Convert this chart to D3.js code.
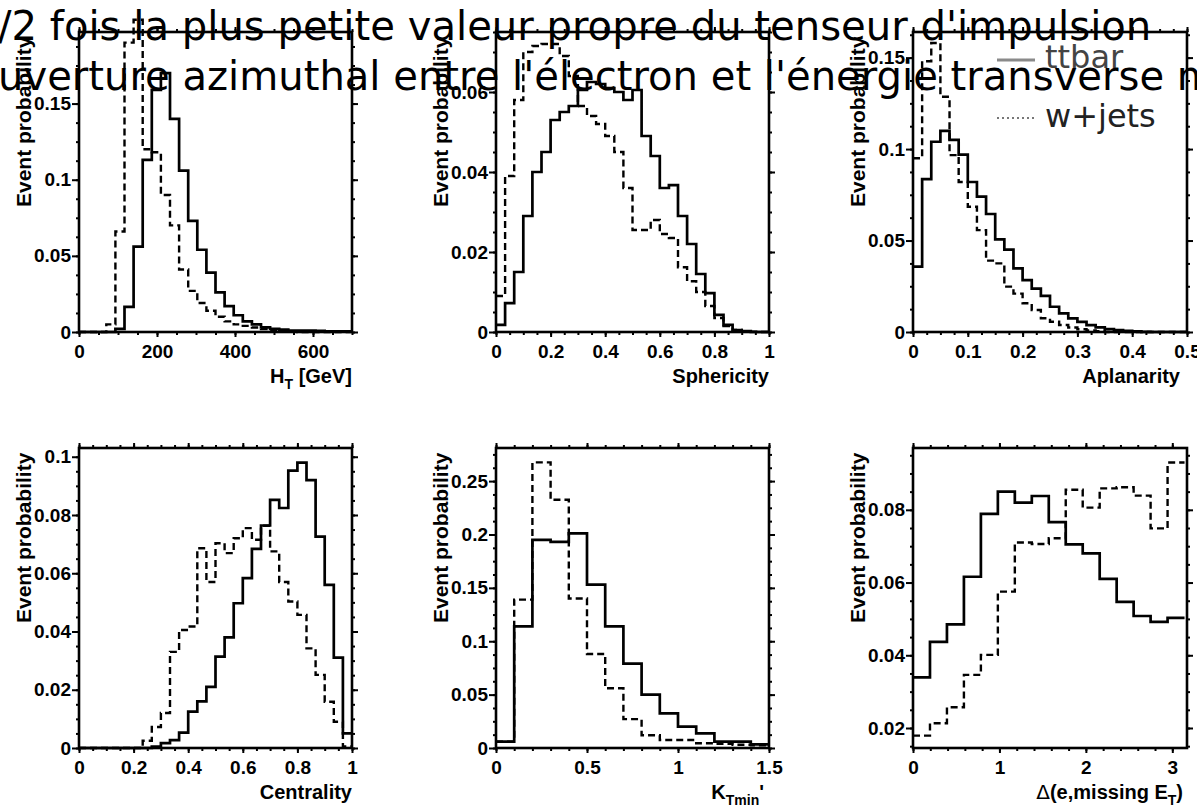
<!DOCTYPE html>
<html>
<head>
<meta charset="utf-8">
<script src="https://cdn.jsdelivr.net/npm/d3@7"></script>
<style>
body{margin:0;background:#fff}
svg{display:block}
.tick text{font-family:"Liberation Sans",Arial,sans-serif;font-weight:bold;font-size:19px;fill:#000}
.tick line{stroke:#000;stroke-width:2}
.xtitle,.ytitle{font-family:"Liberation Sans",Arial,sans-serif;font-weight:bold;fill:#000}
</style>
</head>
<body>
<script>
// ---- data (event probability per bin) ----
// H_T [GeV], 30 bins over 0-700
var htBin = [0, 700/30]
var htTtbar = [0,0,0,0,0.002,0.0165,0.056,0.113,0.159,0.170,0.140,0.106,0.073,0.054,0.039,0.026,0.017,0.011,0.007,0.005,0.003,0.002,0.0015,0.001,0.001,0.001,0.0008,0.0005,0.0005,0.0005]
var htWjets = [0,0,0,0.005,0.066,0.19,0.205,0.12,0.118,0.090,0.070,0.041,0.027,0.019,0.014,0.010,0.007,0.005,0.004,0.003,0.002,0.001,0.001,0.0005,0,0,0,0,0,0]

// Sphericity, 30 bins over 0-1
var sphBin = [0, 1/30]
var sphTtbar = [0.0018,0.0072,0.015,0.029,0.040,0.045,0.053,0.055,0.0565,0.0605,0.0625,0.062,0.061,0.060,0.058,0.0605,0.049,0.044,0.036,0.0367,0.029,0.022,0.0145,0.0097,0.0043,0.0018,0.0005,0.0002,0,0]
var sphWjets = [0.009,0.039,0.058,0.070,0.0715,0.072,0.072,0.069,0.064,0.0565,0.054,0.052,0.049,0.045,0.036,0.0255,0.0255,0.028,0.0245,0.0235,0.0162,0.0127,0.010,0.0065,0.0035,0.0015,0.0005,0.0002,0.0001,0]

// Aplanarity, 30 bins over 0-0.5
var aplBin = [0, 0.5/30]
var aplTtbar = [0.0357,0.0836,0.104,0.110,0.105,0.097,0.082,0.074,0.0645,0.0506,0.045,0.0348,0.0284,0.0237,0.0197,0.0138,0.0102,0.0075,0.0055,0.0038,0.0025,0.0016,0.001,0.0006,0.0003,0.0001,0,0,0,0]
var aplWjets = [0.095,0.148,0.158,0.1286,0.0967,0.082,0.0685,0.0557,0.039,0.0375,0.0248,0.021,0.0157,0.012,0.0075,0.0056,0.0038,0.0025,0.0015,0.0008,0.0004,0,0,0,0,0,0,0,0,0]

// Centrality, 30 bins over 0-1
var cenBin = [0, 1/30]
var cenTtbar = [0,0,0,0,0,0,0,0,0.0005,0.0017,0.0027,0.0053,0.0125,0.016,0.021,0.0314,0.038,0.0497,0.0583,0.0684,0.0764,0.0852,0.0824,0.0952,0.098,0.092,0.0726,0.056,0.031,0.005]
var cenWjets = [0,0,0,0,0,0,0,0.0025,0.0072,0.012,0.033,0.0405,0.0417,0.0686,0.057,0.0703,0.0669,0.072,0.0755,0.0715,0.0763,0.0675,0.057,0.0503,0.0457,0.0342,0.0251,0.0159,0.009,0.0005]

// K_Tmin', 15 bins of 0.1
var ktBin = [0, 0.1]
var ktTtbar = [0.006,0.114,0.195,0.193,0.201,0.153,0.114,0.079,0.050,0.0325,0.020,0.0137,0.006,0.006,0.0034]
var ktWjets = [0.006,0.139,0.2675,0.2325,0.140,0.088,0.056,0.027,0.012,0.0075,0.0075,0.0044,0.004,0.003,0.0025]

// Delta phi(e, missing E_T), 16 bins of pi/16
var dphiBin = [0, Math.PI/16]
var dphiTtbar = [0.0339,0.0437,0.0485,0.0616,0.0789,0.085,0.082,0.0838,0.0766,0.0705,0.068,0.061,0.0547,0.0508,0.0492,0.0503]
var dphiWjets = [0.0179,0.0213,0.0257,0.0346,0.0401,0.0575,0.071,0.0706,0.0722,0.0855,0.0806,0.0859,0.0862,0.0839,0.0749,0.093]

// axis ranges and tick labels
var htX = [0,700],   htY = [0,0.197],   htXTicks = [0,200,400,600],      htYTicks = [0,0.05,0.1,0.15]
var sphX = [0,1],    sphY = [0,0.075],  sphXTicks = [0,0.2,0.4,0.6,0.8,1], sphYTicks = [0,0.02,0.04,0.06]
var aplX = [0,0.5],  aplY = [0,0.164],  aplXTicks = [0,0.1,0.2,0.3,0.4,0.5], aplYTicks = [0,0.05,0.1,0.15]
var cenX = [0,1],    cenY = [0,0.103],  cenXTicks = [0,0.2,0.4,0.6,0.8,1], cenYTicks = [0,0.02,0.04,0.06,0.08,0.1]
var ktX = [0,1.5],   ktY = [0,0.281],   ktXTicks = [0,0.5,1,1.5],        ktYTicks = [0,0.05,0.1,0.15,0.2,0.25]
var dphiX = [0,3.17], dphiY = [0.0145,0.097], dphiXTicks = [0,1,2,3],    dphiYTicks = [0.02,0.04,0.06,0.08]

var legendLabels = ["ttbar","w+jets"]
var overlay1 = "3/2 fois la plus petite valeur propre du tenseur d'impulsion"
var overlay2 = "ouverture azimuthal entre l'électron et l'énergie transverse manquante"

// ---- layout ----
var W = 1197, H = 805
var colX = [79, 496, 913], colW = [273, 273, 274], rowY = [32, 448], panelH = 300

var panels = [
	{col:0,row:0,bin:htBin,a:htTtbar,b:htWjets,xd:htX,yd:htY,xt:htXTicks,yt:htYTicks,xsub:4,title:[["H"],["T","sub"],[" [GeV]"]],toff:0},
	{col:1,row:0,bin:sphBin,a:sphTtbar,b:sphWjets,xd:sphX,yd:sphY,xt:sphXTicks,yt:sphYTicks,xsub:4,title:[["Sphericity"]],toff:0},
	{col:2,row:0,bin:aplBin,a:aplTtbar,b:aplWjets,xd:aplX,yd:aplY,xt:aplXTicks,yt:aplYTicks,xsub:4,title:[["Aplanarity"]],toff:-7},
	{col:0,row:1,bin:cenBin,a:cenTtbar,b:cenWjets,xd:cenX,yd:cenY,xt:cenXTicks,yt:cenYTicks,xsub:4,title:[["Centrality"]],toff:0},
	{col:1,row:1,bin:ktBin,a:ktTtbar,b:ktWjets,xd:ktX,yd:ktY,xt:ktXTicks,yt:ktYTicks,xsub:5,title:[["K"],["Tmin","sub"],["'"]],toff:-5},
	{col:2,row:1,bin:dphiBin,a:dphiTtbar,b:dphiWjets,xd:dphiX,yd:dphiY,xt:dphiXTicks,yt:dphiYTicks,xsub:5,title:[["Δ","thin"],["(e,missing E"],["T","sub"],[")"]],toff:-4}
]

var svg = d3.select("body").append("svg").attr("width",W).attr("height",H)
var fmt = d3.format("~g")

function minorTicks(domain, majors, n)
{
	var step = (majors[1]-majors[0])/n
	var out = []
	var v = majors[0] - step*Math.floor((majors[0]-domain[0])/step + 1e-9)
	for (; v <= domain[1]+1e-9; v += step) out.push(v)
	return out
}

function strip(g){ g.select(".domain").remove() }

function drawPanel(p)
{
	var w = colW[p.col], h = panelH
	var g = svg.append("g").attr("transform","translate("+colX[p.col]+","+rowY[p.row]+")")
	var x = d3.scaleLinear().domain(p.xd).range([0,w])
	var y = d3.scaleLinear().domain(p.yd).range([h,0])
	var xm = minorTicks(p.xd, p.xt, p.xsub)
	var ym = minorTicks(p.yd, p.yt, 4)

	// minor ticks on all four sides
	g.append("g").attr("transform","translate(0,"+h+")").call(d3.axisBottom(x).tickValues(xm).tickSize(3).tickFormat("")).call(strip)
	g.append("g").call(d3.axisTop(x).tickValues(xm).tickSize(3).tickFormat("")).call(strip)
	g.append("g").call(d3.axisLeft(y).tickValues(ym).tickSize(3).tickFormat("")).call(strip)
	g.append("g").attr("transform","translate("+w+",0)").call(d3.axisRight(y).tickValues(ym).tickSize(3).tickFormat("")).call(strip)
	// major ticks
	g.append("g").attr("transform","translate(0,"+h+")").call(d3.axisBottom(x).tickValues(p.xt).tickSize(5).tickPadding(8).tickFormat(fmt)).call(strip)
	g.append("g").call(d3.axisTop(x).tickValues(p.xt).tickSize(5).tickFormat("")).call(strip)
	g.append("g").call(d3.axisLeft(y).tickValues(p.yt).tickSize(7).tickPadding(1).tickFormat(fmt)).call(strip)
	g.append("g").attr("transform","translate("+w+",0)").call(d3.axisRight(y).tickValues(p.yt).tickSize(6).tickFormat("")).call(strip)

	g.append("rect").attr("width",w).attr("height",h)
		.attr("fill","none").attr("stroke","#000").attr("stroke-width",2.6)

	// histograms as steps
	var line = d3.line().curve(d3.curveStepAfter)
		.x(function(d){return x(d[0])}).y(function(d){return y(d[1])})
	function steps(vals)
	{
		var pts = vals.map(function(v,k){return [p.bin[0]+k*p.bin[1], v]})
		pts.push([p.bin[0]+vals.length*p.bin[1], vals[vals.length-1]])
		return pts
	}
	g.append("path").attr("d",line(steps(p.b))).attr("fill","none")
		.attr("stroke","#000").attr("stroke-width",2.4).attr("stroke-dasharray","7,4")
	g.append("path").attr("d",line(steps(p.a))).attr("fill","none")
		.attr("stroke","#000").attr("stroke-width",2.7)

	// axis titles
	var xt = g.append("text").attr("class","xtitle").attr("font-size",20)
		.attr("text-anchor","end").attr("x",w+p.toff).attr("y",h+51)
	var shift = 0
	p.title.forEach(function(part)
	{
		var s = xt.append("tspan").text(part[0])
		var dy = 0
		if (part[1]=="sub") { dy = 6-shift; s.attr("font-size",14) }
		else dy = -shift
		if (dy) s.attr("dy",dy)
		shift += dy
		if (part[1]=="thin") s.attr("font-weight","normal").attr("font-family","DejaVu Sans")
	})
	g.append("text").attr("class","ytitle").attr("font-size",21)
		.attr("transform","translate(-48,175) rotate(-90)")
		.text("Event probability")
}

panels.forEach(drawPanel)

// legend inside the aplanarity panel
var leg = svg.append("g")
leg.append("line").attr("x1",997).attr("x2",1035).attr("y1",60).attr("y2",60)
	.attr("stroke","#8a8a8a").attr("stroke-width",3)
leg.append("line").attr("x1",997).attr("x2",1035).attr("y1",118).attr("y2",118)
	.attr("stroke","#777").attr("stroke-width",2).attr("stroke-dasharray","2,3")
leg.selectAll("text").data(legendLabels).enter().append("text")
	.attr("x",1045).attr("y",function(d,i){return i==0 ? 68 : 127})
	.attr("font-family","DejaVu Sans").attr("font-size",32)
	.attr("fill",function(d,i){return i==0 ? "#444" : "#222"})
	.text(function(d){return d})

// overlaid text lines, fitted so the visible part spans the same width
function fitLine(str, skip, stopAt, visibleWidth, left, baseline)
{
	var t = svg.append("text").attr("font-family","DejaVu Sans").attr("font-size",40)
		.attr("y",baseline).attr("fill","#000").text(str)
	var node = t.node()
	var a = node.getSubStringLength(0,skip)
	var b = node.getSubStringLength(0,stopAt)
	var s = visibleWidth/(b-a)
	t.attr("font-size",40*s).attr("x",left-a*s)
}
fitLine(overlay1, 1, overlay1.length, 1154, -2, 40)
fitLine(overlay2, 1, overlay2.indexOf("manquante"), 1179, -2, 90)
</script>
</body>
</html>
